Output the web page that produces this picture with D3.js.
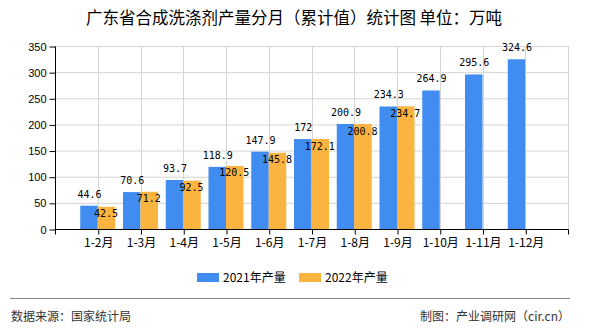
<!DOCTYPE html>
<html><head><meta charset="utf-8">
<script src="https://cdn.jsdelivr.net/npm/d3@7"></script>
<style>
html,body{margin:0;padding:0;background:#fff;}
svg{display:block;}
</style></head>
<body><svg id="c" width="590" height="330"></svg>
<script>
const categories = ["1-2月","1-3月","1-4月","1-5月","1-6月","1-7月","1-8月","1-9月","1-10月","1-11月","1-12月"];
const series2021 = [44.6,70.6,93.7,118.9,147.9,172,200.9,234.3,264.9,295.6,324.6];
const series2022 = [42.5,71.2,92.5,120.5,145.8,172.1,200.8,234.7];
const yTicks = [0,50,100,150,200,250,300,350];
const seriesNames = ["2021年产量","2022年产量"];
const colors = ["#418CF0","#FCB441"];
const titleText = "广东省合成洗涤剂产量分月（累计值）统计图 单位：万吨";
const sourceText = "数据来源：国家统计局";
const creditText = "制图：产业调研网（cir.cn）";

const svg = d3.select("#c");
const L = 55, R = 568, T = 46, B = 229;
const x = d3.scalePoint().domain(categories).range([L, R]).padding(1);
const y = d3.scaleLinear().domain([0, 350]).range([B, T]);
const bw = 17.5;
const cjk = "'Noto Sans CJK SC', 'Noto Sans', sans-serif";

// title
svg.append("text").attr("x", 294).attr("y", 24).attr("text-anchor","middle")
  .style("font-family", cjk).style("font-size","16.5px").attr("fill","#000").text(titleText);

// horizontal gridlines
svg.append("g").selectAll("line").data(yTicks).join("line")
  .attr("x1", L).attr("x2", R).attr("y1", d=>y(d)+0.5).attr("y2", d=>y(d)+0.5)
  .attr("stroke","#d4d4d4").attr("stroke-width",1);
// vertical gridlines
const vx = categories.map(c=>x(c)).concat([R]);
svg.append("g").selectAll("line").data(vx).join("line")
  .attr("x1", d=>Math.round(d)+0.5).attr("x2", d=>Math.round(d)+0.5).attr("y1", T).attr("y2", B)
  .attr("stroke","#d4d4d4").attr("stroke-width",1);

// bars
const g1 = svg.append("g");
g1.selectAll("rect.a").data(series2021).join("rect").attr("class","a")
  .attr("x", (d,i)=>x(categories[i]) - bw).attr("width", bw)
  .attr("y", d=>y(d)).attr("height", d=>B - y(d)).attr("fill", colors[0]);
g1.selectAll("rect.b").data(series2022).join("rect").attr("class","b")
  .attr("x", (d,i)=>x(categories[i])).attr("width", bw)
  .attr("y", d=>y(d)).attr("height", d=>B - y(d)).attr("fill", colors[1]);

// y axis
const yAxis = d3.axisLeft(y).tickValues(yTicks).tickSize(6).tickPadding(3);
const ya = svg.append("g").attr("transform",`translate(${L+0.5},0.5)`).call(yAxis);
ya.select(".domain").attr("stroke","#000").attr("d", `M0,${T}V${B}`);
ya.selectAll(".tick line").attr("stroke","#000");
ya.selectAll("text").style("font-family","'Liberation Sans', Arial, sans-serif").style("font-size","11px").attr("fill","#000");

// x axis
const xAxis = d3.axisBottom(x).tickSize(5).tickPadding(4);
const xa = svg.append("g").attr("transform",`translate(0.5,${B+0.5})`).call(xAxis);
xa.select(".domain").attr("stroke","#000").attr("d", `M${L},0H${R}`);
xa.selectAll(".tick line").attr("stroke","#000");
xa.selectAll("text").style("font-family", cjk).style("font-size","12px").attr("fill","#000");
xa.append("g").selectAll("line").data([L, R]).join("line")
  .attr("x1", d=>d).attr("x2", d=>d).attr("y1",0).attr("y2",5).attr("stroke","#000");

// value labels
const mono = "'DejaVu Sans Mono', monospace";
svg.append("g").selectAll("text").data(series2021).join("text")
  .attr("x", (d,i)=>x(categories[i]) - bw/2 + 0.5).attr("y", d=>y(d) - 8)
  .attr("text-anchor","middle").style("font-family", mono).style("font-size","10px").attr("fill","#000")
  .text(d=>d);
svg.append("g").selectAll("text").data(series2022).join("text")
  .attr("x", (d,i)=>x(categories[i]) + bw/2 - 0.5).attr("y", d=>y(d) + 10.5)
  .attr("text-anchor","middle").style("font-family", mono).style("font-size","10px").attr("fill","#000")
  .text(d=>d);

// legend
const lg = svg.append("g");
const lx = [197, 299];
seriesNames.forEach((n,i)=>{
  lg.append("rect").attr("x", lx[i]).attr("y", 273).attr("width", 22).attr("height", 9).attr("fill", colors[i]);
  lg.append("text").attr("x", lx[i]+26).attr("y", 281.5).style("font-family", cjk).style("font-size","12px")
    .attr("fill","#000").text(n);
});

// separator and footer
svg.append("line").attr("x1",10).attr("x2",570).attr("y1",298.5).attr("y2",298.5).attr("stroke","#888").attr("stroke-width",1);
svg.append("text").attr("x",11).attr("y",321).style("font-family", cjk).style("font-size","12px").attr("fill","#333").text(sourceText);
svg.append("text").attr("x",570).attr("y",321).attr("text-anchor","end").style("font-family", cjk).style("font-size","12px").attr("fill","#333").text(creditText);
</script></body></html>
